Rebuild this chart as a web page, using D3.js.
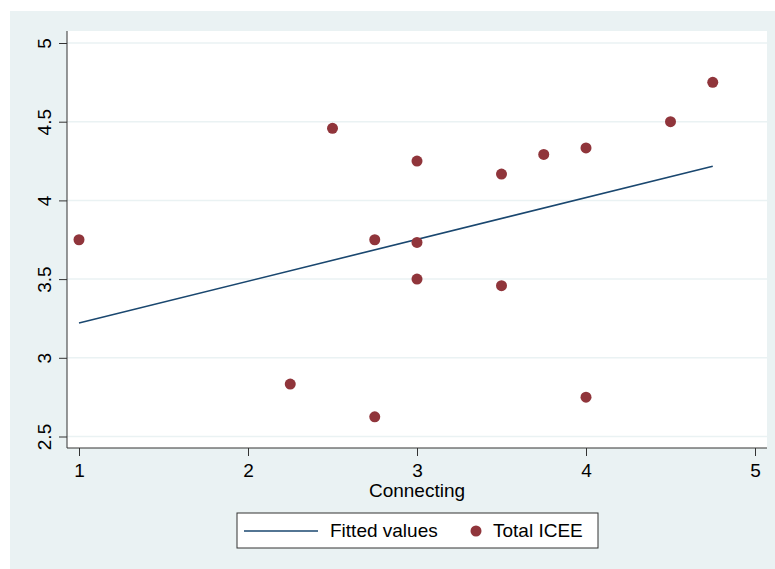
<!DOCTYPE html>
<html>
<head>
<meta charset="utf-8">
<script src="https://cdn.jsdelivr.net/npm/d3@7"></script>
<style>
  body { margin: 0; background: #fff; }
  text { font-family: "Liberation Sans", Arial, sans-serif; }
</style>
</head>
<body>
<div id="chart"></div>
<script>
// values
var connecting = [1, 2.25, 2.5, 2.75, 2.75, 3, 3, 3, 3.5, 3.5, 3.75, 4, 4, 4.5, 4.75];
var totalIcee  = [3.75, 2.833, 4.458, 3.75, 2.625, 4.25, 3.733, 3.5, 4.167, 3.458, 4.292, 4.333, 2.75, 4.5, 4.75];
var fittedX = [1, 4.75];
var fittedY = [3.221, 4.217];
var xTicks = [1, 2, 3, 4, 5];
var yTicks = [2.5, 3, 3.5, 4, 4.5, 5];

function init() {
    var w = 775;
    var h = 569;
    var fs = 19;

    var bg = "#eaf2f3";
    var navy = "#1a476f";
    var maroon = "#90353b";

    var svg = d3.select("#chart")
                .append("svg")
                .attr("width", w)
                .attr("height", h);

    // outer graph region
    svg.append("rect")
       .attr("x", 10).attr("y", 11)
       .attr("width", w - 10).attr("height", h - 11)
       .attr("fill", bg);

    // plot region
    var left = 67, right = 767, top = 31, bottom = 448;
    svg.append("rect")
       .attr("x", left).attr("y", top)
       .attr("width", right - left).attr("height", bottom - top)
       .attr("fill", "#fff");

    var x = d3.scaleLinear().domain([1, 5]).range([79, 755]);
    var y = d3.scaleLinear().domain([2.5, 5]).range([436.5, 43]);

    // grid lines
    svg.selectAll("line.grid")
       .data(yTicks)
       .enter()
       .append("line")
       .attr("class", "grid")
       .attr("x1", left).attr("x2", right)
       .attr("y1", function(d) { return y(d); })
       .attr("y2", function(d) { return y(d); })
       .attr("stroke", bg)
       .attr("stroke-width", 1.5);

    // axes
    var yAxis = svg.append("g")
                   .attr("transform", "translate(" + left + ",0)")
                   .call(d3.axisLeft(y).tickValues(yTicks).tickSize(8)
                           .tickFormat(d3.format("")));
    yAxis.select(".domain").attr("d", "M0," + top + "V" + bottom).attr("stroke", "#333");
    yAxis.selectAll(".tick line").attr("stroke", "#333");
    yAxis.selectAll(".tick text")
         .attr("font-size", fs)
         .attr("fill", "#000")
         .attr("text-anchor", "middle")
         .attr("x", -23)
         .attr("dy", 0)
         .attr("transform", "rotate(-90,-23,0) translate(0,7)");

    var xAxis = svg.append("g")
                   .attr("transform", "translate(0," + bottom + ")")
                   .call(d3.axisBottom(x).tickValues(xTicks).tickSize(8).tickPadding(8)
                           .tickFormat(d3.format("d")));
    xAxis.select(".domain").attr("d", "M" + left + ",0H" + right).attr("stroke", "#333");
    xAxis.selectAll(".tick line").attr("stroke", "#333");
    xAxis.selectAll(".tick text").attr("font-size", fs).attr("fill", "#000");

    svg.append("text")
       .attr("x", x(3)).attr("y", 497)
       .attr("text-anchor", "middle")
       .attr("font-size", fs)
       .text("Connecting");

    // fitted line
    var line = d3.line()
                 .x(function(d) { return x(d[0]); })
                 .y(function(d) { return y(d[1]); });
    svg.append("path")
       .attr("d", line(d3.zip(fittedX, fittedY)))
       .attr("fill", "none")
       .attr("stroke", navy)
       .attr("stroke-width", 1.6);

    // points
    svg.selectAll("circle.pt")
       .data(d3.zip(connecting, totalIcee))
       .enter()
       .append("circle")
       .attr("class", "pt")
       .attr("cx", function(d) { return x(d[0]); })
       .attr("cy", function(d) { return y(d[1]); })
       .attr("r", 5.5)
       .attr("fill", maroon);

    // legend
    var lg = svg.append("g");
    lg.append("rect")
      .attr("x", 237).attr("y", 513)
      .attr("width", 361).attr("height", 35)
      .attr("fill", "#fff")
      .attr("stroke", "#333")
      .attr("stroke-width", 1);
    lg.append("line")
      .attr("x1", 244).attr("x2", 318)
      .attr("y1", 531).attr("y2", 531)
      .attr("stroke", navy).attr("stroke-width", 1.6);
    lg.append("text")
      .attr("x", 330).attr("y", 537)
      .attr("font-size", fs)
      .text("Fitted values");
    lg.append("circle")
      .attr("cx", 476).attr("cy", 531)
      .attr("r", 5.5).attr("fill", maroon);
    lg.append("text")
      .attr("x", 493).attr("y", 537)
      .attr("font-size", fs)
      .text("Total ICEE");
}

window.onload = init;
</script>
</body>
</html>
